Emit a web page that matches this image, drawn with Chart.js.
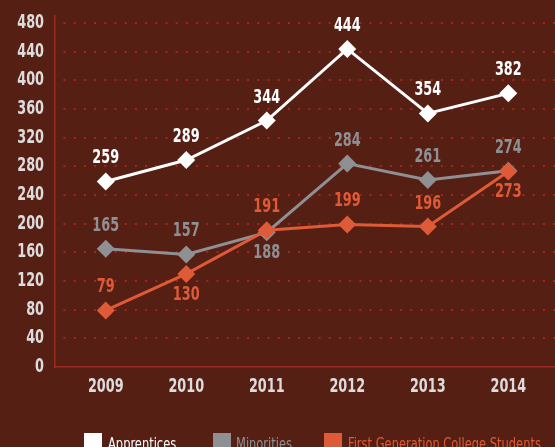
<!DOCTYPE html>
<html>
<head>
<meta charset="utf-8">
<script src="https://cdn.jsdelivr.net/npm/chart.js@4/dist/chart.umd.min.js"></script>
<style>
  html, body { margin: 0; padding: 0; background: #561f14; overflow: hidden; }
  #wrap { width: 555px; height: 447px; position: relative; }
</style>
</head>
<body>
<div id="wrap"><canvas id="c" width="555" height="447"></canvas></div>
<script>
// ---- data ----
const years = [2009, 2010, 2011, 2012, 2013, 2014];
const apprentices = [259, 289, 344, 444, 354, 382];
const minorities = [165, 157, 188, 284, 261, 274];
const firstGen = [79, 130, 191, 199, 196, 273];
const seriesNames = ['Apprentices', 'Minorities', 'First Generation College Students'];
const yTicks = [0, 40, 80, 120, 160, 200, 240, 280, 320, 360, 400, 440, 480];

// ---- style ----
const BG = '#561f14';
const WHITE = '#ffffff';
const GREY = '#8e9094';
const ORANGE = '#df5a36';
const GRID = '#a3271f';
const AXIS = '#9b2a22';
const TICK = '#dcdcdc';
const FONT = "'DejaVu Sans Condensed', 'DejaVu Sans', sans-serif";
const SQUEEZE = 0.75;
const labelSide = [
  ['top','top','top','top','top','top'],
  ['top','top','bottom','top','top','top'],
  ['top','bottom','top','top','top','bottom']
];

function narrowText(ctx, text, x, y, align, squeeze) {
  ctx.save();
  ctx.translate(x, y);
  ctx.scale(squeeze, 1);
  ctx.textAlign = align;
  ctx.fillText(text, 0, 0);
  ctx.restore();
}

const bgPlugin = {
  id: 'bg',
  beforeDraw(chart) {
    const ctx = chart.ctx;
    ctx.save();
    ctx.fillStyle = BG;
    ctx.fillRect(0, 0, chart.width, chart.height);
    ctx.restore();
  }
};

const tickPlugin = {
  id: 'narrowTicks',
  afterDraw(chart) {
    const ctx = chart.ctx;
    const xs = chart.scales.x, ys = chart.scales.y;
    ctx.save();
    ctx.font = "bold 19px " + FONT;
    ctx.fillStyle = TICK;
    ctx.textBaseline = 'middle';
    yTicks.forEach(v => narrowText(ctx, String(v), 44, ys.getPixelForValue(v), 'right', SQUEEZE));
    years.forEach(v => narrowText(ctx, String(v), xs.getPixelForValue(v), 387, 'center', SQUEEZE));
    ctx.restore();
  }
};

const labelPlugin = {
  id: 'valueLabels',
  afterDatasetsDraw(chart) {
    const ctx = chart.ctx;
    ctx.save();
    ctx.font = "bold 19px " + FONT;
    ctx.textBaseline = 'middle';
    chart.data.datasets.forEach((ds, i) => {
      const meta = chart.getDatasetMeta(i);
      meta.data.forEach((pt, j) => {
        const side = labelSide[i][j];
        const y = side === 'top' ? pt.y - 23 : pt.y + 21;
        ctx.fillStyle = ds.borderColor;
        narrowText(ctx, String(ds.data[j].y), pt.x, y, 'center', SQUEEZE);
      });
    });
    ctx.restore();
  }
};

const legendPlugin = {
  id: 'customLegend',
  afterDraw(chart) {
    const ctx = chart.ctx;
    const boxX = [84, 213, 324];
    const textX = [108, 236, 348];
    const top = 433;
    ctx.save();
    ctx.font = "15px " + FONT;
    ctx.textBaseline = 'alphabetic';
    chart.data.datasets.forEach((ds, i) => {
      ctx.fillStyle = ds.borderColor;
      ctx.fillRect(boxX[i], top, 18, 18);
      narrowText(ctx, ds.label, textX[i], 449, 'left', 0.85);
    });
    ctx.restore();
  }
};

function mk(arr) { return arr.map((v, i) => ({ x: years[i], y: v })); }

function ds(label, arr, color, order) {
  return {
    label: label,
    data: mk(arr),
    order: order,
    borderColor: color,
    backgroundColor: color,
    borderWidth: 3,
    pointStyle: 'rectRot',
    pointRadius: 9,
    pointHoverRadius: 9,
    pointBorderWidth: 0,
    tension: 0,
    clip: false
  };
}

new Chart(document.getElementById('c'), {
  type: 'line',
  data: {
    datasets: [
      ds(seriesNames[0], apprentices, WHITE, 0),
      ds(seriesNames[1], minorities, GREY, 2),
      ds(seriesNames[2], firstGen, ORANGE, 1)
    ]
  },
  options: {
    responsive: false,
    animation: false,
    events: [],
    layout: { autoPadding: false, padding: { top: 16, right: 0, bottom: 0, left: 0 } },
    plugins: { legend: { display: false }, tooltip: { enabled: false } },
    scales: {
      x: {
        type: 'linear',
        min: 2008.37,
        max: 2014.58,
        afterBuildTicks(scale) { scale.ticks = years.map(v => ({ value: v })); },
        afterFit(scale) { scale.height = 80; },
        grid: { display: false, drawTicks: false },
        border: { display: true, color: AXIS, width: 1.5 },
        ticks: { display: false }
      },
      y: {
        min: 0,
        max: 490,
        afterBuildTicks(scale) { scale.ticks = yTicks.map(v => ({ value: v })); },
        afterFit(scale) { scale.width = 55; },
        grid: {
          drawTicks: false,
          lineWidth: 2,
          color: c => (c.tick && c.tick.value === 0) ? 'rgba(0,0,0,0)' : GRID
        },
        border: { display: true, color: AXIS, width: 1.5, dash: [2, 8.2], dashOffset: -8 },
        ticks: { display: false }
      }
    }
  },
  plugins: [bgPlugin, labelPlugin, tickPlugin, legendPlugin]
});
</script>
</body>
</html>
